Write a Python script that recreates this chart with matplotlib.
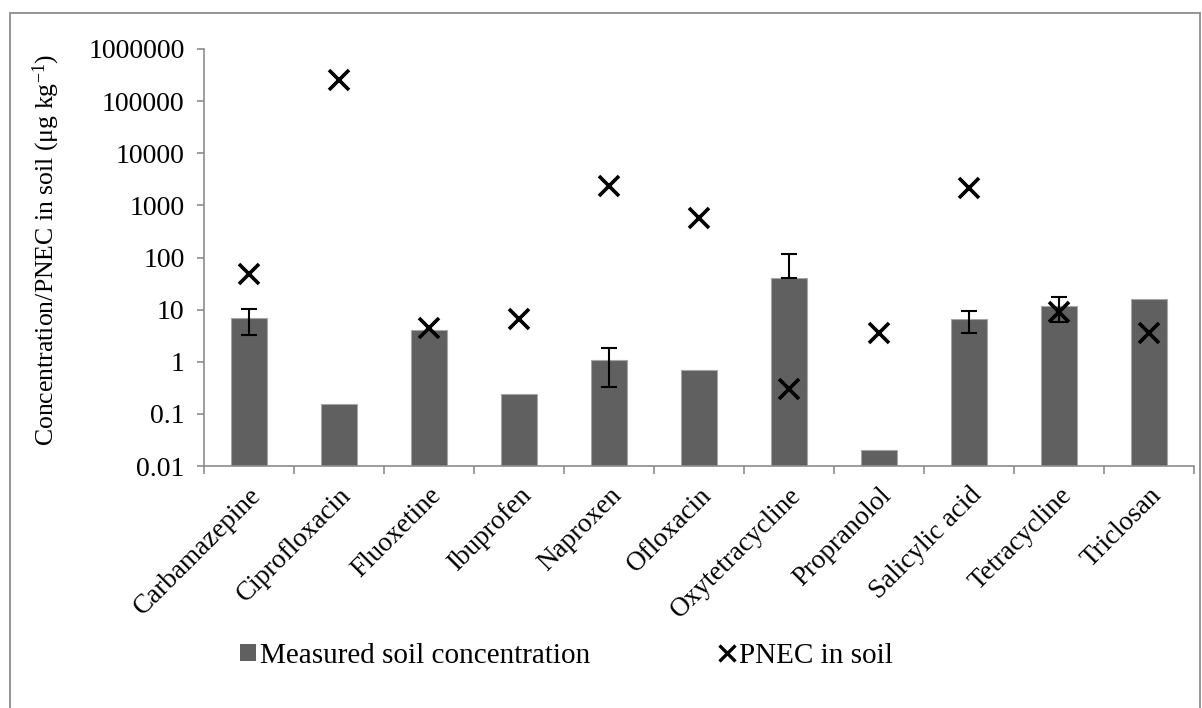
import matplotlib
matplotlib.use("Agg")
import matplotlib.pyplot as plt
import numpy as np
from matplotlib.lines import Line2D
from matplotlib.patches import Rectangle, Patch

categories = ["Carbamazepine", "Ciprofloxacin", "Fluoxetine", "Ibuprofen", "Naproxen",
              "Ofloxacin", "Oxytetracycline", "Propranolol", "Salicylic acid",
              "Tetracycline", "Triclosan"]
measured = [6.9, 0.155, 4.1, 0.245, 1.1, 0.70, 41, 0.02, 6.6, 11.6, 15.8]
err_minus = [3.6, 0, 0, 0, 0.77, 0, 0, 0, 3.0, 5.8, 0]
err_plus = [3.6, 0, 0, 0, 0.77, 0, 78, 0, 3.0, 6.0, 0]
pnec = [48, 250000, 4.5, 6.5, 2370, 570, 0.30, 3.5, 2150, 9.0, 3.6]
ytick_vals = [0.01, 0.1, 1, 10, 100, 1000, 10000, 100000, 1000000]
ytick_labels = ["0.01", "0.1", "1", "10", "100", "1000", "10000", "100000", "1000000"]

plt.rcParams["font.family"] = ["Liberation Serif", "DejaVu Serif"]
plt.rcParams["mathtext.fontset"] = "custom"
plt.rcParams["mathtext.rm"] = "Liberation Serif"
plt.rcParams["mathtext.it"] = "Liberation Serif:italic"

W, H = 1202, 708
fig = plt.figure(figsize=(W / 100, H / 100), dpi=100)
ax = fig.add_axes([204 / W, 1 - 466 / H, (1194 - 204) / W, (466 - 49) / H])

x = np.arange(len(categories))
bar_color = "#606060"
ax.bar(x, measured, width=0.39, color=bar_color, edgecolor="#a6a6a6", linewidth=0.8,
       zorder=2)

em = np.array(err_minus)
ep = np.array(err_plus)
mask = (em > 0) | (ep > 0)
ax.errorbar(x[mask], np.array(measured)[mask], yerr=[em[mask], ep[mask]], fmt="none",
            ecolor="black", elinewidth=1.5, capsize=5.5, capthick=1.5, zorder=3)

ax.plot(x, pnec, linestyle="none", marker="x", markersize=14, markeredgewidth=2.6,
        color="black", zorder=4)

ax.set_yscale("log")
ax.set_ylim(0.01, 1000000)
ax.set_xlim(-0.5, len(categories) - 0.5)
ax.set_yticks(ytick_vals)
ax.set_yticklabels(ytick_labels)
ax.yaxis.set_minor_locator(matplotlib.ticker.NullLocator())
ax.set_xticks(x)
ax.set_xticklabels(categories, rotation=45, ha="right", rotation_mode="anchor")
ax.set_xticks(np.arange(len(categories) + 1) - 0.5, minor=True)

gray = "#8c8c8c"
for s in ["top", "right"]:
    ax.spines[s].set_visible(False)
for s in ["left", "bottom"]:
    ax.spines[s].set_color(gray)
    ax.spines[s].set_linewidth(1.2)
ax.tick_params(axis="y", which="major", direction="out", length=5, width=1.2, color=gray,
               labelsize=20, pad=9)
ax.tick_params(axis="x", which="major", length=0, labelsize=19.5, pad=12)
ax.tick_params(axis="x", which="minor", direction="out", length=6, width=1.2, color=gray)

fig.text(46 / W, 1 - 250 / H, "Concentration/PNEC in soil (μg kg$^{\\mathrm{-1}}$)",
         rotation=90, ha="center", va="center", fontsize=18.5)

handles = [Patch(facecolor=bar_color, edgecolor="none"),
           Line2D([], [], linestyle="none", marker="x", markersize=12, markeredgewidth=2.4,
                  color="black")]
fig.legend(handles, ["Measured soil concentration", "PNEC in soil"], ncol=2,
           loc="center left", bbox_to_anchor=(240 / W, 1 - 656 / H), frameon=False,
           fontsize=21, handlelength=0.55, handleheight=0.55, handletextpad=0.15,
           columnspacing=4.4, borderaxespad=0, borderpad=0)

frame = Rectangle((10 / W, -0.1), (1200 - 10) / W, 1.1 - 13 / H, transform=fig.transFigure,
                  fill=False, edgecolor=gray, linewidth=1.3, clip_on=False)
fig.patches.append(frame)

fig.savefig("out.png", dpi=100, facecolor="white")
